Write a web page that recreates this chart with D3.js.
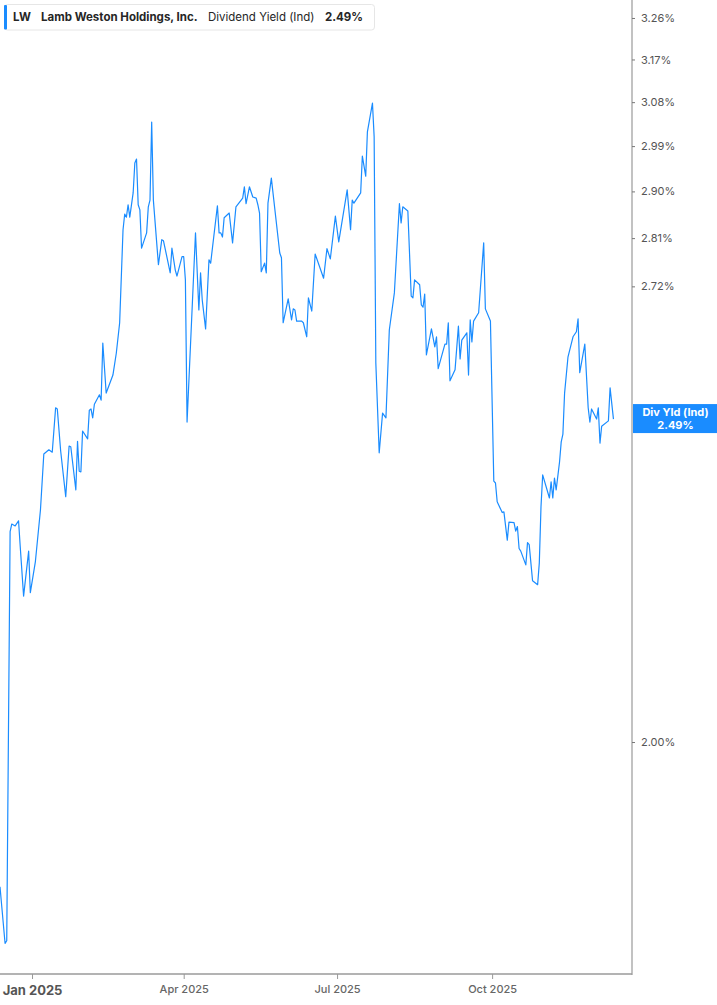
<!DOCTYPE html>
<html>
<head>
<meta charset="utf-8">
<script src="https://cdn.jsdelivr.net/npm/d3@7"></script>
<style>
  body { margin: 0; background: #fff; }
  text { font-family: Inter, "Noto Sans", sans-serif; }
</style>
</head>
<body>
<div id="chart"></div>
<script>
// daily indicated dividend yield (%)
const dates = [
  "2024-12-13","2024-12-16","2024-12-17","2024-12-19","2024-12-20","2024-12-22","2024-12-24","2024-12-25",
  "2024-12-27","2024-12-30","2024-12-31","2025-01-03","2025-01-06","2025-01-08","2025-01-11","2025-01-13",
  "2025-01-15","2025-01-16","2025-01-18","2025-01-21","2025-01-23","2025-01-24","2025-01-27","2025-01-28",
  "2025-01-29","2025-01-30","2025-01-31","2025-02-03","2025-02-04","2025-02-05","2025-02-06","2025-02-07",
  "2025-02-10","2025-02-11","2025-02-12","2025-02-14","2025-02-18","2025-02-20","2025-02-22","2025-02-24",
  "2025-02-25","2025-02-26","2025-02-27","2025-02-28","2025-03-02","2025-03-03","2025-03-04","2025-03-05",
  "2025-03-06","2025-03-07","2025-03-10","2025-03-11","2025-03-12","2025-03-13","2025-03-14","2025-03-17",
  "2025-03-19","2025-03-20","2025-03-24","2025-03-25","2025-03-27","2025-03-28","2025-03-31","2025-04-01",
  "2025-04-02","2025-04-03","2025-04-08","2025-04-10","2025-04-11","2025-04-12","2025-04-14","2025-04-16",
  "2025-04-17","2025-04-21","2025-04-22","2025-04-23","2025-04-24","2025-04-25","2025-04-28","2025-04-30",
  "2025-05-02","2025-05-06","2025-05-07","2025-05-08","2025-05-10","2025-05-12","2025-05-14","2025-05-15",
  "2025-05-16","2025-05-17","2025-05-19","2025-05-20","2025-05-21","2025-05-23","2025-05-28","2025-05-29",
  "2025-05-30","2025-06-02","2025-06-04","2025-06-05","2025-06-06","2025-06-07","2025-06-10","2025-06-11",
  "2025-06-13","2025-06-14","2025-06-16","2025-06-18","2025-06-23","2025-06-25","2025-06-27","2025-06-30",
  "2025-07-02","2025-07-07","2025-07-09","2025-07-10","2025-07-11","2025-07-15","2025-07-16","2025-07-18",
  "2025-07-19","2025-07-22","2025-07-23","2025-07-24","2025-07-26","2025-07-28","2025-07-30","2025-08-01",
  "2025-08-04","2025-08-07","2025-08-08","2025-08-09","2025-08-12","2025-08-14","2025-08-15","2025-08-16",
  "2025-08-19","2025-08-20","2025-08-21","2025-08-22","2025-08-23","2025-08-26","2025-08-28","2025-08-29",
  "2025-08-30","2025-09-03","2025-09-04","2025-09-05","2025-09-06","2025-09-09","2025-09-11","2025-09-12",
  "2025-09-13","2025-09-16","2025-09-17","2025-09-18","2025-09-19","2025-09-20","2025-09-23","2025-09-26",
  "2025-09-27","2025-09-30","2025-10-02","2025-10-03","2025-10-04","2025-10-07","2025-10-08","2025-10-10",
  "2025-10-11","2025-10-14","2025-10-15","2025-10-16","2025-10-17","2025-10-18","2025-10-21","2025-10-22",
  "2025-10-23","2025-10-25","2025-10-28","2025-10-29","2025-10-30","2025-10-31","2025-11-04","2025-11-05",
  "2025-11-06","2025-11-07","2025-11-08","2025-11-10","2025-11-11","2025-11-12","2025-11-13","2025-11-15",
  "2025-11-18","2025-11-20","2025-11-21","2025-11-22","2025-11-25","2025-11-27","2025-11-28","2025-11-29",
  "2025-12-02","2025-12-03","2025-12-04","2025-12-05","2025-12-09","2025-12-10","2025-12-12"
];

const yields = [
  1.814,1.746,1.749,2.305,2.317,2.314,2.322,2.282,
  2.207,2.275,2.212,2.259,2.339,2.429,2.436,2.432,
  2.506,2.504,2.434,2.360,2.442,2.441,2.371,2.450,
  2.401,2.400,2.467,2.454,2.502,2.504,2.489,2.512,
  2.528,2.519,2.618,2.531,2.562,2.600,2.654,2.826,
  2.856,2.850,2.874,2.850,2.897,2.956,2.964,2.874,
  2.864,2.791,2.820,2.870,2.883,3.039,2.883,2.760,
  2.807,2.805,2.745,2.791,2.750,2.739,2.775,2.775,
  2.732,2.482,2.820,2.677,2.745,2.695,2.643,2.769,
  2.763,2.872,2.820,2.820,2.812,2.849,2.858,2.801,
  2.870,2.887,2.909,2.876,2.909,2.889,2.887,2.874,
  2.858,2.747,2.763,2.745,2.877,2.926,2.782,2.773,
  2.654,2.697,2.659,2.679,2.677,2.657,2.657,2.654,
  2.629,2.699,2.675,2.780,2.735,2.790,2.771,2.852,
  2.803,2.903,2.826,2.883,2.877,2.897,2.970,2.930,
  3.019,3.078,3.009,2.583,2.431,2.497,2.489,2.641,
  2.708,2.876,2.839,2.870,2.862,2.702,2.699,2.732,
  2.723,2.686,2.682,2.706,2.597,2.643,2.611,2.629,
  2.573,2.616,2.616,2.654,2.552,2.571,2.648,2.590,
  2.623,2.636,2.562,2.659,2.620,2.657,2.672,2.801,
  2.679,2.657,2.385,2.382,2.352,2.335,2.336,2.292,
  2.320,2.319,2.306,2.313,2.279,2.275,2.254,2.288,
  2.285,2.230,2.224,2.257,2.344,2.395,2.358,2.384,
  2.358,2.390,2.371,2.416,2.449,2.462,2.531,2.593,
  2.629,2.638,2.661,2.566,2.616,2.506,2.482,2.504,
  2.487,2.506,2.447,2.475,2.484,2.540,2.487
];

const yTickValues = [3.26, 3.17, 3.08, 2.99, 2.90, 2.81, 2.72, 2.00];
const xTickDates = ["2025-01-01", "2025-04-01", "2025-07-01", "2025-10-01"];
const xTickLabels = ["Jan 2025", "Apr 2025", "Jul 2025", "Oct 2025"];

const ticker = "LW";
const company = "Lamb Weston Holdings, Inc.";
const metric = "Dividend Yield (Ind)";
const lastLabel = "Div Yld (Ind)";

const width = 717, height = 1005;
const plotRight = 632, plotBottom = 974;
const blue = "#1a8cff";

const parse = d3.utcParse("%Y-%m-%d");
const data = dates.map((d, i) => ({ date: parse(d), value: yields[i] }));
const last = data[data.length - 1];

const svg = d3.select("#chart").append("svg")
    .attr("width", width)
    .attr("height", height);

const x = d3.scaleUtc()
    .domain([parse("2024-12-13"), parse("2025-12-23")])
    .range([0, plotRight]);

// log scale, matches the uneven spacing of the right axis
const y = d3.scaleLog()
    .domain([1.7102, 3.2998])
    .range([plotBottom, 0]);

// line
const line = d3.line()
    .x(d => x(d.date))
    .y(d => y(d.value));

svg.append("path")
    .datum(data)
    .attr("fill", "none")
    .attr("stroke", blue)
    .attr("stroke-width", 1.2)
    .attr("stroke-linejoin", "round")
    .attr("d", line);

// bottom axis
const xAxis = d3.axisBottom(x)
    .tickValues(xTickDates.map(parse))
    .tickSize(5)
    .tickFormat((d, i) => xTickLabels[i]);

const gx = svg.append("g")
    .attr("transform", `translate(0,${plotBottom})`)
    .call(xAxis);
gx.select(".domain")
    .attr("d", `M0,0H${plotRight}`)
    .attr("stroke", "#b3b3b3")
    .attr("stroke-width", 2);
gx.selectAll(".tick line").attr("stroke", "#999");
gx.selectAll(".tick text")
    .attr("y", 11)
    .attr("fill", "#666")
    .style("font-size", "11px")
    .style("font-weight", 500);
gx.selectAll(".tick text")
    .filter((d, i) => i === 0)
    .attr("y", 12)
    .attr("fill", "#555")
    .style("font-size", "13px")
    .style("font-weight", 700);

// right axis
const yAxis = d3.axisRight(y)
    .tickValues(yTickValues)
    .tickSize(3)
    .tickFormat(d => d3.format(".2f")(d) + "%");

const gy = svg.append("g")
    .attr("transform", `translate(${plotRight},0)`)
    .call(yAxis);
gy.select(".domain")
    .attr("d", `M0,0V${plotBottom + 1}`)
    .attr("stroke", "#999")
    .attr("stroke-width", 1.2);
gy.selectAll(".tick line").attr("stroke", "#777");
gy.selectAll(".tick text")
    .attr("x", 9)
    .attr("fill", "#555")
    .style("font-size", "11px");

// last value tag
const tagY = y(last.value);
svg.append("rect")
    .attr("x", plotRight + 1)
    .attr("y", tagY - 15)
    .attr("width", width - plotRight - 1)
    .attr("height", 29)
    .attr("fill", blue);

svg.append("text")
    .attr("x", (plotRight + width) / 2 + 1)
    .attr("y", tagY - 3)
    .attr("text-anchor", "middle")
    .attr("fill", "#fff")
    .style("font-size", "11px")
    .style("font-weight", 700)
    .text(lastLabel);

svg.append("text")
    .attr("x", (plotRight + width) / 2 + 1)
    .attr("y", tagY + 10)
    .attr("text-anchor", "middle")
    .attr("fill", "#fff")
    .style("font-size", "11px")
    .style("font-weight", 700)
    .text(d3.format(".2f")(last.value) + "%");

// legend header
const header = svg.append("g");
header.append("rect")
    .attr("x", 4.5).attr("y", 4.5)
    .attr("width", 370).attr("height", 25.5)
    .attr("rx", 3)
    .attr("fill", "#fff")
    .attr("stroke", "#e6e6e6");
header.append("rect")
    .attr("x", 4).attr("y", 5)
    .attr("width", 3).attr("height", 24.5)
    .attr("rx", 1)
    .attr("fill", blue);

const hText = [
  { x: 13, t: ticker, w: 700 },
  { x: 41, t: company, w: 700 },
  { x: 208, t: metric, w: 400 },
  { x: 325, t: d3.format(".2f")(last.value) + "%", w: 700 }
];
header.selectAll("text.h")
    .data(hText)
    .enter()
    .append("text")
    .attr("class", "h")
    .attr("x", d => d.x)
    .attr("y", 21)
    .attr("fill", "#262626")
    .style("font-size", "11.5px")
    .style("font-weight", d => d.w)
    .text(d => d.t);
</script>
</body>
</html>
